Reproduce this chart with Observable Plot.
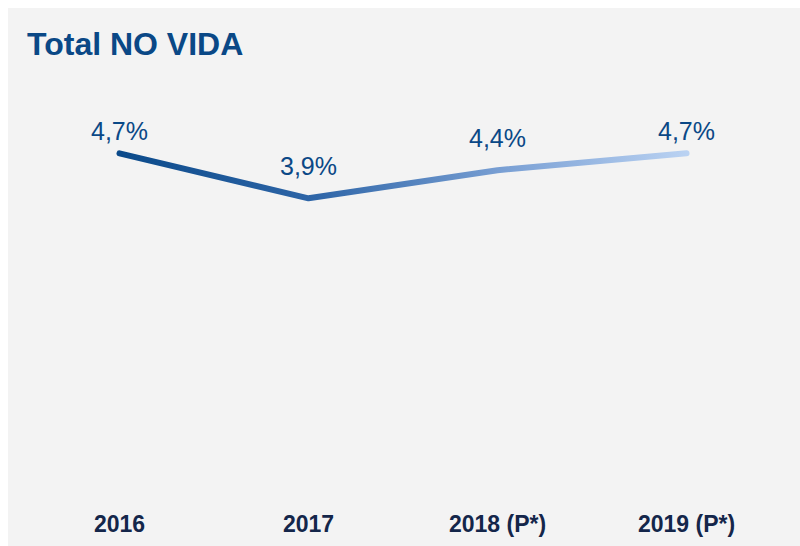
<!DOCTYPE html>
<html>
<head>
<meta charset="utf-8">
<script src="https://cdn.jsdelivr.net/npm/d3@7"></script>
<script src="https://cdn.jsdelivr.net/npm/@observablehq/plot@0.6"></script>
<style>
  html, body { margin: 0; padding: 0; background: #ffffff; }
  #panel { position: absolute; left: 8px; top: 8px; width: 792px; height: 538px; background: #f3f3f3; overflow: hidden; }
  #title { position: absolute; left: 19px; top: 20px; font-family: "Liberation Sans", Arial, sans-serif; font-weight: bold; font-size: 32px; line-height: 32px; color: #0a4886; white-space: nowrap; }
  #chart { position: absolute; left: 0; top: 70px; }
</style>
</head>
<body>
<div id="panel">
  <div id="title">Total NO VIDA</div>
  <div id="chart"></div>
</div>
<script>
const categories = ["2016", "2017", "2018 (P*)", "2019 (P*)"];
const values = [4.7, 3.9, 4.4, 4.7];
const labels = ["4,7%", "3,9%", "4,4%", "4,7%"];

const data = categories.map((c, i) => ({ year: c, value: values[i], label: labels[i] }));
const high = data.filter((d, i) => i === 0 || i === 3);
const low = data.filter((d, i) => i === 1 || i === 2);

const font = "Liberation Sans, Arial, sans-serif";
const plot = Plot.plot({
  width: 792,
  height: 468,
  marginLeft: 110,
  marginRight: 114,
  marginTop: 58,
  marginBottom: 129,
  style: { background: "transparent", fontFamily: font, overflow: "visible" },
  x: { type: "point", domain: categories, padding: 0 },
  y: { domain: [0, 5], axis: null },
  marks: [
    Plot.axisX({ tickSize: 0, tickPadding: 98, fontSize: 23, fontWeight: "bold", fill: "#14264a", label: null }),
    Plot.line(data, { x: "year", y: "value", stroke: "url(#lineGrad)", strokeWidth: 6, strokeLinecap: "round", strokeLinejoin: "round" }),
    Plot.text(high, { x: "year", y: "value", text: "label", lineAnchor: "bottom", dy: -13, fontSize: 25, fill: "#0a4886" }),
    Plot.text(low, { x: "year", y: "value", text: "label", lineAnchor: "bottom", dy: -23, fontSize: 25, fill: "#0a4886" })
  ]
});

const svg = d3.select(plot);
const defs = svg.insert("defs", ":first-child");
const grad = defs.append("linearGradient").attr("id", "lineGrad").attr("x1", "0%").attr("x2", "100%").attr("y1", "0%").attr("y2", "0%");
grad.append("stop").attr("offset", "0%").attr("stop-color", "#0b4a8a");
grad.append("stop").attr("offset", "35%").attr("stop-color", "#2f66a8");
grad.append("stop").attr("offset", "68%").attr("stop-color", "#7aa0d4");
grad.append("stop").attr("offset", "100%").attr("stop-color", "#bad2f2");

document.getElementById("chart").appendChild(plot);
</script>
</body>
</html>
